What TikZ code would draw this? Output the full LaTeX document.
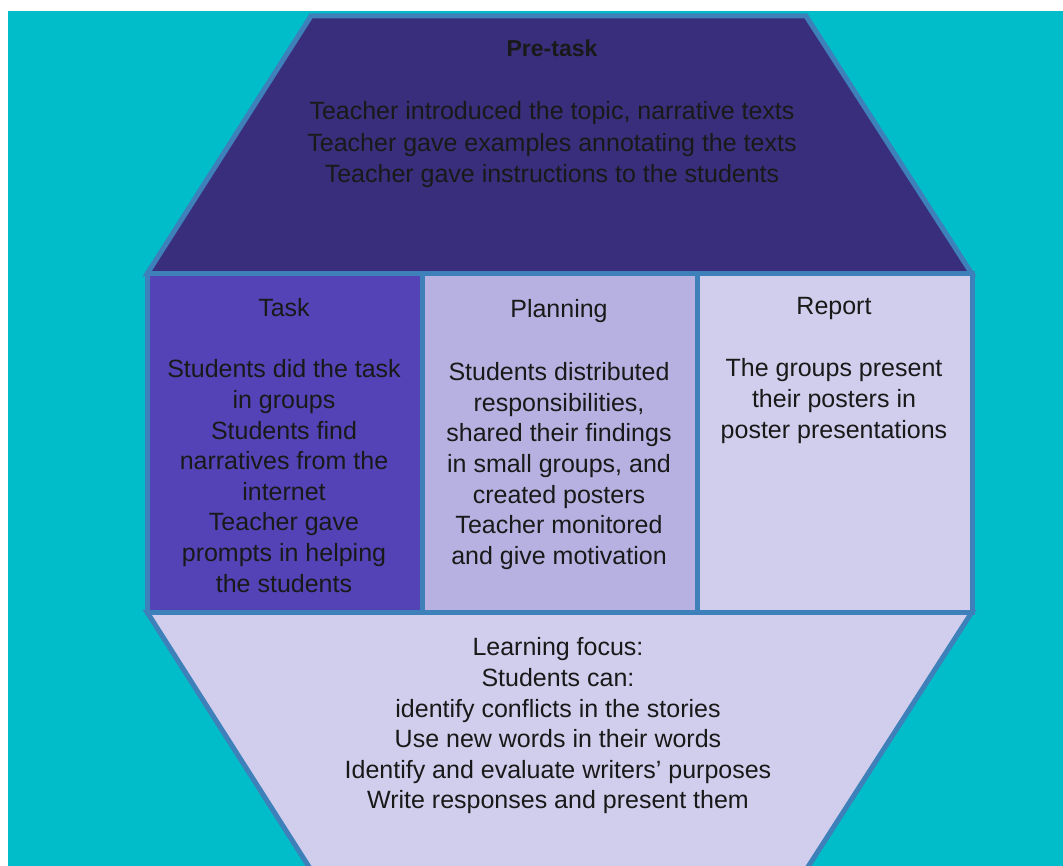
\documentclass[tikz,border=0pt]{standalone}
\usepackage{fontspec}
\setmainfont{Liberation Sans}
\definecolor{sea}{HTML}{00BDC9}
\definecolor{rim}{HTML}{3D80BA}
\definecolor{pretask}{HTML}{392E7B}
\definecolor{task}{HTML}{5343B7}
\definecolor{planning}{HTML}{B7B1E1}
\definecolor{report}{HTML}{D1CDEC}
\tikzset{
  stage/.style={draw=rim, line width=5pt},
  words/.style={align=center, inner sep=0pt, text=black!90,
    font=\fontsize{25}{30.6}\selectfont}
}
\begin{document}
\begin{tikzpicture}[x=1pt,y=-1pt]
\useasboundingbox (0,0) rectangle (1063,866);
\fill [white] (0,0) rectangle (1063,866);
\fill [sea] (8,11) rectangle (1063,866);

\begin{scope}
\clip (8,11) rectangle (1063,866);
\draw [stage, fill=pretask] (311,16) -- (806,16) -- (972,274) -- (147,274) -- cycle;
\draw [stage, fill=report] (147,612) -- (972,612) -- (806,870) -- (311,870) -- cycle;
\draw [stage, fill=task] (147,274) rectangle (422,612);
\draw [stage, fill=planning] (422,274) rectangle (697,612);
\draw [stage, fill=report] (697,274) rectangle (972,612);
\end{scope}

% pre-task
\node [words, font=\bfseries\fontsize{23}{28}\selectfont] (pretitle) at (552,48) {Pre-task};
\node [words, font=\fontsize{25}{31.5}\selectfont] (prebody) at (552,145)
  {Teacher introduced the topic, narrative texts\\
   Teacher gave examples annotating the texts\\
   Teacher gave instructions to the students};

% task, planning, report
\node [words] (tasktitle) at (284,308) {Task};
\node [words] (taskbody) at (284,476)
  {Students did the task\\ in groups\\ Students find\\ narratives from the\\
   internet\\ Teacher gave\\ prompts in helping\\ the students};

\node [words] (plantitle) at (559,311) {Planning};
\node [words] (planbody) at (559,466)
  {Students distributed\\ responsibilities,\\ shared their findings\\
   in small groups, and\\ created posters\\ Teacher monitored\\ and give motivation};

\node [words] (reptitle) at (834,308) {Report};
\node [words] (repbody) at (834,401)
  {The groups present\\ their posters in\\ poster presentations};

% learning focus
\node [words] (focus) at (558,726)
  {Learning focus:\\ Students can:\\ identify conflicts in the stories\\
   Use new words in their words\\ Identify and evaluate writers’ purposes\\
   Write responses and present them};
\end{tikzpicture}
\end{document}
